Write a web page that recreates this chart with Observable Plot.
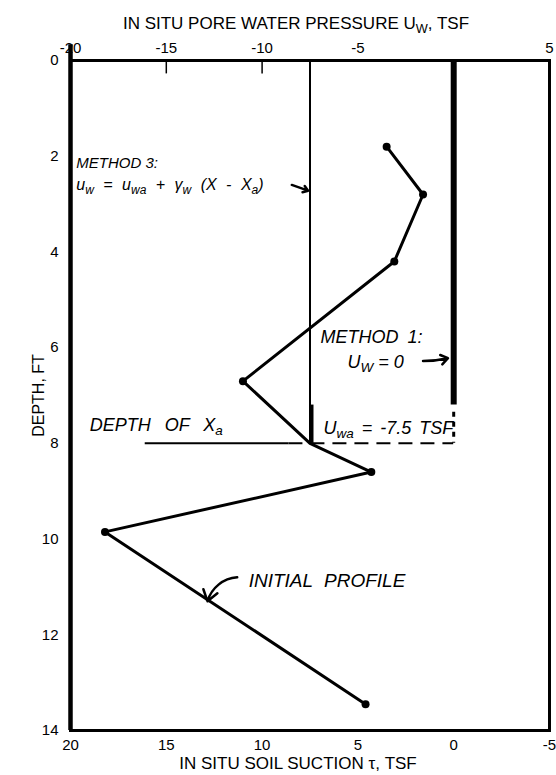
<!DOCTYPE html>
<html>
<head>
<meta charset="utf-8">
<script src="https://cdn.jsdelivr.net/npm/d3@7"></script>
<script src="https://cdn.jsdelivr.net/npm/@observablehq/plot@0.6"></script>
<style>
  html, body { margin: 0; padding: 0; background: #fff; }
  #chart svg { display: block; }
</style>
</head>
<body>
<div id="chart"></div>
<script>
// ---- data ----
// initial soil suction profile (tau, TSF) vs depth (ft)
const suction = [3.5, 1.6, 3.1, 11.0, 7.5, 4.3, 18.2, 4.6];
const depth   = [1.8, 2.8, 4.2, 6.7, 8.0, 8.6, 9.85, 13.45];
const marked  = [true, true, true, true, false, true, true, true];

// tick values
const suctionTicks  = [20, 15, 10, 5, 0, -5];       // bottom axis (tau)
const pressureTicks = [-20, -15, -10, -5, 5];        // top axis (u_w)
const pressureTickMarks = [-15, -10];
const depthTicks = [0, 2, 4, 6, 8, 10, 12, 14];

// methods
const method1Uw = 0;       // U_w = 0
const uwa = -7.5;          // U_wa, TSF
const xaDepth = 8.0;       // depth of X_a, ft
const method1End = 7.2;    // end of heavy method-1 line

// text
const topTitle = "IN SITU PORE WATER PRESSURE U_{W}, TSF";
const bottomTitle = "IN SITU SOIL SUCTION \u03C4, TSF";
const yTitle = "DEPTH, FT";

const method3Label   = [{text: "METHOD 3:", x: 19.7, y: 2.15}];
const method3Formula = [{text: "u_{w} = u_{wa} + \u03B3_{w} (X - X_{a})", x: 19.7, y: 2.6}];
const method1Label   = [{text: "METHOD 1:", x: 6.95, y: 5.79},
                        {text: "U_{W} = 0", x: 5.54, y: 6.31}];
const uwaLabel       = [{text: "U_{wa} = -7.5 TSF", x: 6.8, y: 7.68}];
const xaLabel        = [{text: "DEPTH OF X_{a}", x: 19.0, y: 7.62}];
const profileLabel   = [{text: "INITIAL PROFILE", x: 10.7, y: 10.87}];

const arrowMethod3  = [{x1: 8.45, y1: 2.6, x2: 7.6, y2: 2.72}];
const arrowMethod1  = [{x1: 1.6, y1: 6.28, x2: 0.3, y2: 6.22}];
const arrowProfile  = [{x1: 11.3, y1: 10.8, x2: 12.85, y2: 11.3}];

const idx = suction.map((_, i) => i);
const font = "'Liberation Sans', Arial, Helvetica, sans-serif";
const arrowOpts = {x1: "x1", y1: "y1", x2: "x2", y2: "y2", headLength: 9, headAngle: 70, strokeWidth: 2.5};
const noteOpts = {x: "x", y: "y", text: "text", textAnchor: "start", fontStyle: "italic"};

const chart = Plot.plot({
  width: 556,
  height: 775,
  marginLeft: 70,
  marginRight: 7,
  marginTop: 60,
  marginBottom: 45,
  style: {fontFamily: font, background: "#fff", color: "#000"},
  x: {domain: [20, -5]},
  y: {domain: [0, 14], reverse: true},
  marks: [
    // axes
    Plot.axisX({anchor: "bottom", ticks: suctionTicks, tickSize: 0, tickPadding: 9,
      tickFormat: d => String(d), label: null, fontSize: 15}),
    Plot.axisX({anchor: "top", ticks: pressureTicks.map(p => -p), tickSize: 0, tickPadding: 8,
      tickFormat: d => String(-d), label: null, fontSize: 15}),
    Plot.axisY({ticks: depthTicks, tickSize: 0, tickPadding: 12, label: null, fontSize: 15}),
    Plot.ruleX(pressureTickMarks, {x: p => -p, y1: 0, y2: 0.28, strokeWidth: 1.5}),
    // titles
    Plot.text([topTitle], {frameAnchor: "top", dy: -44, dx: -14, fontSize: 17, letterSpacing: 1.8, textAnchor: "middle"}),
    Plot.text([bottomTitle], {frameAnchor: "bottom", dy: 38, dx: -12, fontSize: 17, letterSpacing: 3, textAnchor: "middle"}),
    Plot.text([yTitle], {frameAnchor: "left", dx: -32, rotate: -90, fontSize: 16, letterSpacing: 1.5, textAnchor: "middle"}),
    // frame
    Plot.frame({strokeWidth: 3}),
    Plot.ruleX([20], {y1: -0.33, y2: 14, strokeWidth: 4.5}),
    // method 1: U_w = 0
    Plot.ruleX([-method1Uw], {y1: 0, y2: method1End, strokeWidth: 6}),
    Plot.ruleX([-method1Uw], {y1: method1End + 0.15, y2: xaDepth, strokeWidth: 3, strokeDasharray: "5,5"}),
    // method 3
    Plot.ruleX([-uwa], {y1: 0, y2: xaDepth, strokeWidth: 2}),
    Plot.ruleX([-uwa], {y1: method1End, y2: xaDepth, strokeWidth: 4, dx: 1.5}),
    // depth of X_a
    Plot.ruleY([xaDepth], {x1: 16.1, x2: 8.6, strokeWidth: 2}),
    Plot.ruleY([xaDepth], {x1: 8.6, x2: -method1Uw, strokeWidth: 2, strokeDasharray: "14,8"}),
    // initial profile
    Plot.line(idx, {x: i => suction[i], y: i => depth[i], strokeWidth: 3, stroke: "#000"}),
    Plot.dot(idx.filter(i => marked[i]), {x: i => suction[i], y: i => depth[i], r: 4, fill: "#000"}),
    // annotations
    Plot.text(method3Label, {...noteOpts, fontSize: 15}),
    Plot.text(method3Formula, {...noteOpts, fontSize: 16, letterSpacing: 2}),
    Plot.text(method1Label, {...noteOpts, fontSize: 18, letterSpacing: 2.8}),
    Plot.text(uwaLabel, {...noteOpts, fontSize: 18, letterSpacing: 1}),
    Plot.text(xaLabel, {...noteOpts, fontSize: 18, letterSpacing: 1.5}),
    Plot.text(profileLabel, {...noteOpts, fontSize: 19, letterSpacing: 2}),
    Plot.arrow(arrowMethod3, {...arrowOpts, headLength: 7}),
    Plot.arrow(arrowMethod1, {...arrowOpts, bend: -6, headLength: 7}),
    Plot.arrow(arrowProfile, {...arrowOpts, bend: -35})
  ]
});

// wider word gaps in the hand-lettered annotations
const wordGaps = new Map([
  [method3Formula[0].text, "5px"],
  [xaLabel[0].text, "9px"],
  [uwaLabel[0].text, "3px"],
  [method1Label[0].text, "4px"],
  [profileLabel[0].text, "6px"]
]);
chart.querySelectorAll("text").forEach(t => {
  const g = wordGaps.get(t.textContent);
  if (g) t.style.wordSpacing = g;
});

// subscripts: "_{...}"
chart.querySelectorAll("text").forEach(t => {
  const s = t.textContent;
  if (!s.includes("_{")) return;
  const ns = "http://www.w3.org/2000/svg";
  t.textContent = "";
  const re = /_\{([^}]*)\}/g;
  let last = 0, m, shifted = false;
  const add = (str, sub) => {
    const ts = document.createElementNS(ns, "tspan");
    ts.textContent = str;
    if (sub) {
      ts.setAttribute("font-size", "75%");
      if (!shifted) ts.setAttribute("dy", "4");
      shifted = true;
    } else if (shifted) {
      ts.setAttribute("dy", "-4");
      shifted = false;
    }
    t.appendChild(ts);
  };
  while ((m = re.exec(s))) {
    if (m.index > last) add(s.slice(last, m.index), false);
    add(m[1], true);
    last = re.lastIndex;
  }
  if (last < s.length) add(s.slice(last), false);
});

document.getElementById("chart").appendChild(chart);
</script>
</body>
</html>
